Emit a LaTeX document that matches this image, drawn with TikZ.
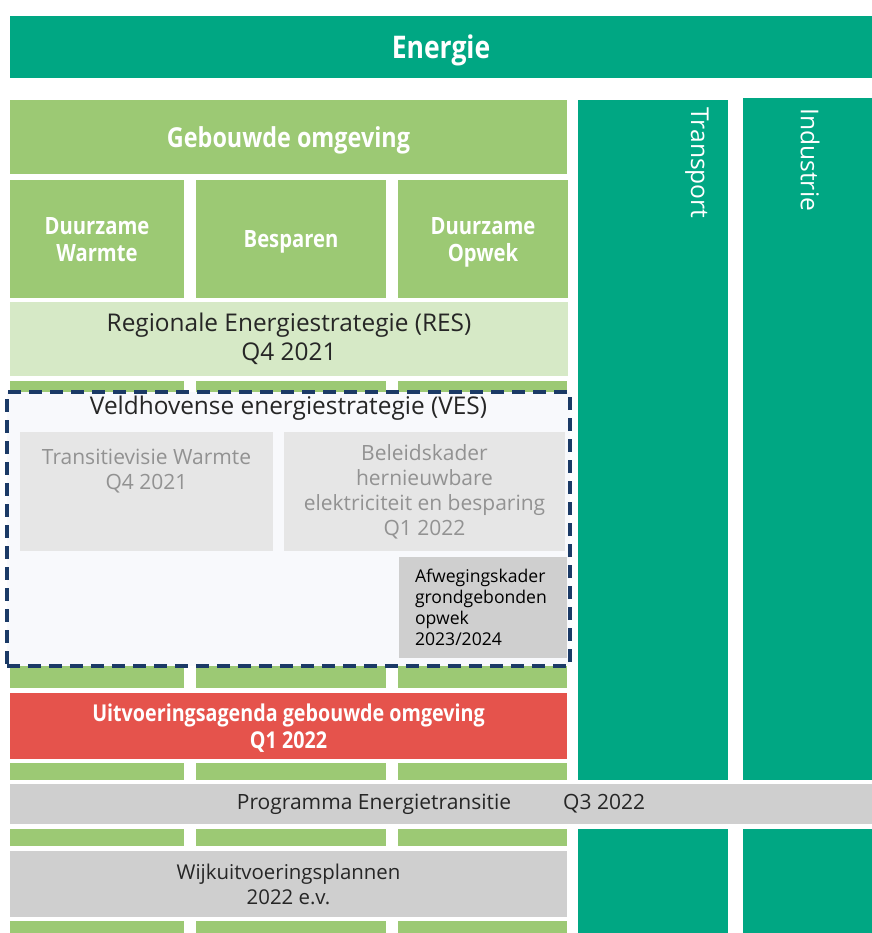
\documentclass[tikz,border=0pt]{standalone}
\usepackage{fontspec}
\setmainfont{Open Sans}
\newfontfamily\smalfont[FakeStretch=0.85]{Open Sans}
\usepackage{xcolor}
\definecolor{energiegroen}{HTML}{00A783}
\definecolor{bouwgroen}{HTML}{9CC974}
\definecolor{resgroen}{HTML}{D6E9C6}
\definecolor{agendarood}{HTML}{E5534C}
\definecolor{vlakgrijs}{HTML}{CFCFCF}
\definecolor{lichtgrijs}{HTML}{E6E6E6}
\definecolor{tekstgrijs}{HTML}{929292}
\definecolor{donkerblauw}{HTML}{1B3A66}
\definecolor{vesvlak}{HTML}{F8F9FC}
\tikzset{
    blok/.style={rectangle, inner sep=0pt, align=center},
    kop/.style={blok, text=white, text depth=0pt, font=\smalfont\bfseries},
    tekst/.style={blok, text=black!85, font=\fontsize{10.5}{12.5}\selectfont},
    groottekst/.style={tekst, font=\fontsize{12.2}{14.5}\selectfont},
    zijtekst/.style={text=white, inner sep=0pt, font=\fontsize{12.3}{14}\selectfont}}

\begin{document}
\begin{tikzpicture}[x=0.5pt, y=-0.5pt]

            \useasboundingbox (0,0) rectangle (872,933);

            \foreach \xa/\xb in {10/184, 196/386, 398/567}
                \foreach \ya/\yb in {381/688, 763/780, 829/846, 921/933}
                    \fill[bouwgroen] (\xa,\ya) rectangle (\xb,\yb);
            \foreach \xa/\xb/\yt in {578/728/100, 743/872/98}
            {
                \fill[energiegroen] (\xa,\yt) rectangle (\xb,780);
                \fill[energiegroen] (\xa,829) rectangle (\xb,933);
            }

            \node[kop, fill=energiegroen, minimum width=431pt, minimum height=31pt, font=\smalfont\bfseries\fontsize{15.6}{18}\selectfont] (energie) at (441,47) {Energie};
            \node[kop, fill=bouwgroen, minimum width=278.5pt, minimum height=37pt, font=\smalfont\bfseries\fontsize{13.75}{16}\selectfont] (gebouwd) at (288.5,137) {Gebouwde omgeving};

            \node[kop, fill=bouwgroen, minimum width=87pt, minimum height=59pt, font=\smalfont\bfseries\fontsize{11.9}{13.5}\selectfont] (warmte) at (97,239) {Duurzame\\Warmte};
            \node[kop, fill=bouwgroen, minimum width=95pt, minimum height=59pt, font=\smalfont\bfseries\fontsize{11.9}{13.5}\selectfont] (besparen) at (291,239) {Besparen};
            \node[kop, fill=bouwgroen, minimum width=85pt, minimum height=59pt, font=\smalfont\bfseries\fontsize{11.9}{13.5}\selectfont] (opwek) at (483,239) {Duurzame\\Opwek};

            \node[groottekst, fill=resgroen, minimum width=279pt, minimum height=37pt] (res) at (289,339) {Regionale Energiestrategie (RES)\\Q4 2021};

            \node[blok, fill=vesvlak, draw=donkerblauw, line width=1.8pt, dash pattern=on 6.5pt off 4pt, minimum width=281.5pt, minimum height=137pt] (ves) at (288.5,529) {};
            \node[groottekst, anchor=north] (vestitel) at (288.5,396) {Veldhovense energiestrategie (VES)};
            \node[tekst, fill=lichtgrijs, text=tekstgrijs, minimum width=126.5pt, minimum height=59.5pt] (transitie) at (146.5,491.5) {Transitievisie Warmte\\Q4 2021\\[10pt]};
            \node[tekst, fill=lichtgrijs, text=tekstgrijs, minimum width=140.5pt, minimum height=59.5pt] (beleid) at (424.5,491.5) {Beleidskader\\hernieuwbare\\elektriciteit en besparing\\Q1 2022};
            \node[blok, fill=vlakgrijs, text=black, align=left, text width=68pt, inner xsep=8pt, minimum height=50.5pt, font=\fontsize{8.8}{10.5}\selectfont] (afweging) at (483,607.5) {Afwegingskader\\grondgebonden\\opwek\\2023/2024};

            \node[kop, fill=agendarood, minimum width=278.5pt, minimum height=33pt, font=\smalfont\bfseries\fontsize{11.6}{13.5}\selectfont] (agenda) at (288.5,726) {Uitvoeringsagenda gebouwde omgeving\\Q1 2022};

            \node[tekst, fill=vlakgrijs, minimum width=431pt, minimum height=20pt] (programma) at (441,804) {Programma Energietransitie\hspace{26pt}Q3 2022};
            \node[tekst, fill=vlakgrijs, minimum width=278.5pt, minimum height=33pt, font=\fontsize{10.2}{12.5}\selectfont] (wijk) at (288.5,884) {Wijkuitvoeringsplannen\\2022 e.v.};

            \node[zijtekst, rotate=-90, anchor=west] (transport) at (697,107) {Transport};
            \node[zijtekst, rotate=-90, anchor=west] (industrie) at (810,108) {Industrie};

\end{tikzpicture}
\end{document}
